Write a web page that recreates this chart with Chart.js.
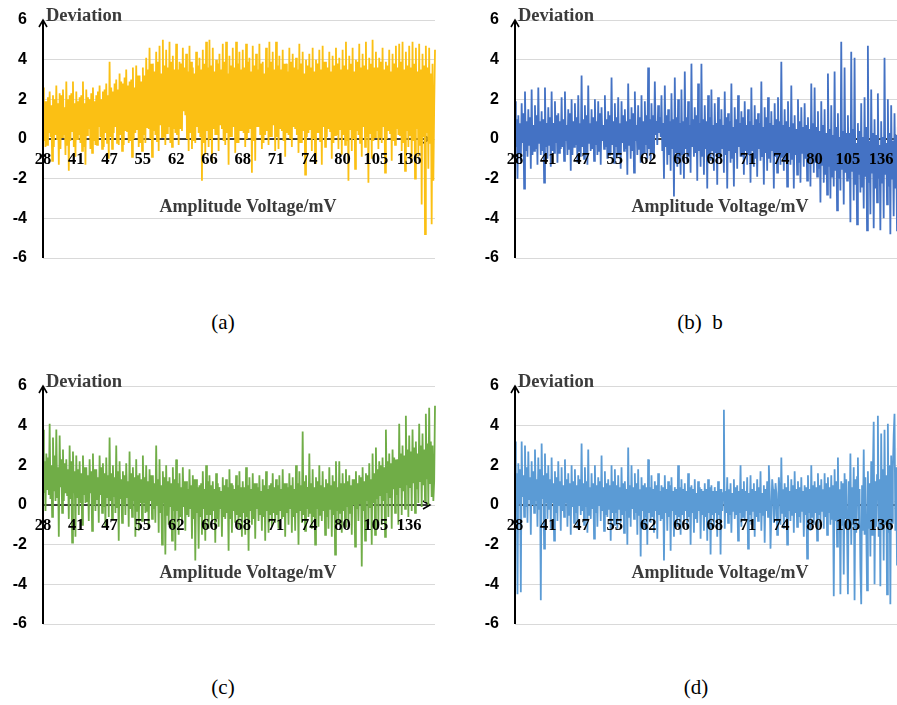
<!DOCTYPE html>
<html>
<head>
<meta charset="utf-8">
<script src="https://cdn.jsdelivr.net/npm/chart.js@4.4.1/dist/chart.umd.min.js"></script>
<style>
html,body{margin:0;padding:0;background:#fff;overflow:hidden;width:897px;height:705px;}
.pane{position:absolute;width:450px;height:280px;}
.cap{position:absolute;font-family:"Liberation Serif","Times New Roman",serif;font-size:21px;color:#000;transform:translate(-50%,-50%);white-space:nowrap;}
</style>
</head>
<body>
<div class="pane" style="left:0;top:0"><canvas id="ca" width="450" height="280"></canvas></div>
<div class="pane" style="left:472px;top:0"><canvas id="cb" width="450" height="280"></canvas></div>
<div class="pane" style="left:0;top:366px"><canvas id="cc" width="450" height="280"></canvas></div>
<div class="pane" style="left:472px;top:366px"><canvas id="cd" width="450" height="280"></canvas></div>
<div class="cap" style="left:223px;top:322px">(a)</div>
<div class="cap" style="left:700px;top:322px">(b)&nbsp;&nbsp;b</div>
<div class="cap" style="left:223px;top:687px">(c)</div>
<div class="cap" style="left:696px;top:687px">(d)</div>
<script>
// ---- data ----
const tickLabels = ['28','41','47','55','62','66','68','71','74','80','105','136'];
const yTicks = [-6,-4,-2,0,2,4,6];
const yTitle = 'Deviation';
const xTitle = 'Amplitude Voltage/mV';
const pointsPerTick = 40;

const devA = [
2.6,-0.1,1.9,-0.4,1.9,-0.3,2.1,0.3,2.4,0.1,1.7,-1.1,2.2,-0.4,2.0,0.2,2.7,0.0,1.8,-1.3,2.3,-0.5,2.2,0.1,2.5,0.2,1.6,-0.8,2.9,-0.3,2.0,-1.6,2.2,-0.1,2.3,0.4,2.9,-0.4,1.8,-0.9,
2.4,0.0,1.9,0.2,2.1,-0.2,2.2,-0.6,2.9,-0.4,1.8,-1.3,2.5,0.2,2.1,0.5,2.0,-0.5,2.3,-0.7,2.6,-0.1,1.9,-0.3,2.2,-0.3,2.4,0.6,2.7,0.1,2.0,-0.5,2.4,-0.4,2.5,0.3,2.8,-0.2,2.2,-1.0,
3.9,0.1,2.6,-0.5,2.4,0.3,2.8,0.6,3.0,-0.2,2.5,-0.3,3.3,0.2,2.9,-0.6,2.8,-0.3,3.1,0.4,3.5,0.4,2.7,-0.2,2.9,-0.1,3.0,-0.9,3.6,0.0,2.6,0.3,3.7,0.5,3.2,-0.4,3.2,-0.2,2.9,-0.6,
3.6,0.2,3.2,-0.2,4.1,0.6,3.5,0.5,4.6,0.0,3.8,-0.9,3.8,0.4,3.4,0.2,4.4,-0.1,3.9,-0.6,4.7,0.7,3.3,0.1,5.0,0.1,3.7,-0.3,4.5,0.3,3.6,0.6,4.9,-0.2,3.9,-0.4,4.2,0.5,3.5,0.3,
4.8,0.2,3.5,-0.3,3.9,0.5,3.8,0.4,4.6,1.4,3.6,1.2,4.3,0.0,3.4,-0.6,4.7,0.3,3.9,-0.5,3.6,-0.1,3.3,-0.2,4.4,0.6,3.7,0.3,4.1,0.1,3.5,-2.1,4.5,-0.2,3.8,-0.8,4.9,0.4,3.6,-0.4,
5.0,0.0,3.7,-1.2,4.6,0.5,3.4,0.2,4.0,0.2,3.8,-0.6,4.3,0.7,3.5,0.5,4.8,-0.1,3.9,-0.3,4.9,0.3,3.3,-1.3,4.2,0.1,3.7,0.1,4.6,0.6,3.6,-0.7,4.9,-0.2,3.8,-0.2,4.4,0.4,3.5,0.4,
4.5,0.3,3.6,-0.4,4.8,0.0,3.9,0.3,4.1,0.5,3.4,-1.7,4.7,-0.1,3.7,-1.1,4.3,0.6,3.5,0.6,4.8,0.2,3.8,-0.5,3.9,-0.2,3.3,0.2,4.6,0.4,3.6,-0.3,4.9,0.1,3.9,0.1,4.4,0.7,3.5,-0.6,
4.9,0.1,3.7,-0.5,4.2,0.5,3.5,0.4,4.5,-0.1,3.8,-0.9,3.8,0.3,3.4,0.2,4.6,0.0,3.9,-0.4,4.3,0.6,3.6,0.5,4.1,0.2,3.5,-0.7,4.8,-0.2,3.8,-0.2,4.4,0.4,3.3,-1.8,4.0,0.1,3.7,0.3,
4.3,0.5,3.6,-0.6,4.6,0.0,3.4,-1.2,4.0,0.3,3.8,0.3,4.5,-0.1,3.5,-1.3,4.7,0.6,3.9,-0.4,3.9,0.1,3.6,0.5,4.4,0.4,3.4,-1.0,4.2,-0.2,3.7,0.2,4.6,0.2,3.8,-0.5,4.1,0.5,3.5,-0.8,
4.5,0.2,3.7,-0.3,4.9,-0.1,3.5,-2.1,4.2,0.5,3.8,-0.6,4.6,0.0,3.4,-1.5,4.0,0.4,3.9,0.2,4.8,-0.2,3.6,-0.9,4.3,0.6,3.7,-0.4,4.9,0.1,3.5,-2.2,4.1,0.3,3.8,-1.0,5.0,-0.1,3.6,0.1,
4.4,0.4,3.6,-0.5,4.1,0.1,3.9,-0.2,4.6,0.6,3.5,-1.7,3.9,0.0,3.7,0.4,4.5,0.3,3.4,-1.1,4.3,-0.1,3.8,-0.3,4.7,0.5,3.6,0.2,4.8,0.2,3.9,-0.6,4.9,-0.2,3.5,-1.6,4.4,0.4,3.7,-0.4,
4.7,0.2,3.6,-1.2,4.9,-0.1,3.8,-2.0,4.6,0.5,3.4,-0.9,4.8,-0.3,3.5,-3.3,4.3,0.1,3.7,-4.8,4.7,0.3,3.6,-1.5,4.6,-0.2,3.3,-4.3,3.8,-2.1,1.6,4.5
];
const devB = [
1.9,-0.4,1.0,-2.0,1.2,-0.7,0.8,-1.1,1.8,-0.2,1.3,-2.5,2.4,-0.6,0.9,-0.9,1.5,-0.3,1.1,-1.5,2.5,-0.8,0.7,-0.6,1.7,-0.5,1.2,-1.3,2.6,-0.2,0.9,-0.8,1.4,-0.6,1.0,-2.2,2.6,-0.4,0.8,-1.0,
1.6,-0.3,1.1,-1.4,2.4,-0.6,0.8,-0.7,1.9,-0.2,1.2,-1.2,1.3,-0.7,0.9,-0.5,2.1,-0.4,1.0,-1.1,2.4,-0.1,0.7,-0.8,1.5,-0.5,1.3,-1.6,2.0,-0.8,0.9,-0.4,1.8,-0.3,1.1,-1.2,2.2,-0.6,0.8,-0.9,
3.2,-0.4,1.0,-1.0,1.7,-0.7,1.2,-1.3,2.7,-0.2,0.8,-0.6,1.5,-0.5,1.1,-1.1,2.0,-0.3,0.9,-0.8,1.9,-0.6,1.3,-1.3,1.6,-0.1,0.7,-0.5,2.2,-0.4,1.0,-1.0,1.4,-0.8,1.2,-0.7,3.1,-0.3,0.9,-1.2,
1.8,-0.4,1.1,-0.9,2.1,-0.7,0.8,-1.5,1.9,-0.2,1.2,-0.6,1.5,-0.5,0.9,-1.8,2.8,-0.3,1.0,-1.0,1.6,-0.6,1.3,-1.7,2.4,-0.1,0.7,-0.8,1.7,-0.5,1.1,-1.2,2.2,-0.8,0.9,-0.7,1.9,-0.3,1.2,-1.0,
3.6,-0.5,1.0,-1.1,1.8,-0.7,1.2,-0.9,2.9,0.2,0.9,-0.3,1.7,0.3,1.1,0.1,2.2,-0.6,0.8,-2.0,2.7,-0.4,1.2,-1.3,1.5,-0.8,0.9,-1.6,2.3,-0.5,1.0,-2.9,3.1,-0.7,1.1,-1.4,2.0,-0.9,0.8,-1.8,
2.5,-0.8,0.9,-2.0,3.4,-0.5,1.1,-1.2,1.9,-0.9,0.7,-1.7,3.8,-0.4,1.0,-0.9,1.6,-0.7,1.2,-2.1,2.8,-0.6,0.8,-1.4,3.8,-0.9,1.0,-1.8,1.7,-0.5,0.9,-2.5,2.2,-0.8,1.1,-1.1,2.5,-0.6,0.7,-1.6,
1.8,-0.7,0.8,-2.3,2.1,-0.9,1.0,-1.0,1.5,-0.5,0.7,-1.7,2.4,-0.8,1.1,-2.5,1.3,-0.6,0.9,-1.2,2.8,-1.0,0.6,-2.4,1.6,-0.7,1.0,-1.5,2.2,-0.4,0.8,-0.9,1.4,-0.9,1.1,-1.8,1.9,-0.6,0.7,-1.3,
1.5,-0.8,0.9,-2.2,2.6,-0.6,0.7,-1.4,1.7,-1.0,1.0,-1.9,1.3,-0.5,0.8,-1.1,2.9,-0.9,0.6,-2.3,1.6,-0.7,1.1,-1.6,2.1,-1.0,0.8,-1.2,1.4,-0.6,0.7,-2.5,1.8,-0.9,1.0,-1.7,2.1,-0.8,0.9,-1.3,
3.9,-0.9,0.7,-1.6,1.5,-1.1,0.9,-2.4,1.9,-0.7,0.6,-1.3,2.7,-1.0,0.8,-2.5,1.2,-0.8,0.5,-1.8,2.0,-1.2,0.9,-2.2,1.6,-0.7,0.6,-1.4,1.8,-1.0,0.7,-2.1,1.1,-1.1,0.5,-2.4,2.8,-0.9,0.8,-1.7,
2.6,-1.2,0.6,-1.9,1.4,-1.5,0.4,-3.2,1.9,-1.3,0.7,-2.2,1.5,-1.8,0.3,-2.8,3.3,-1.4,0.5,-3.0,1.7,-1.9,0.2,-2.4,3.4,-1.6,0.6,-3.6,1.3,-2.0,0.1,-2.6,4.9,-1.5,0.4,-3.3,3.6,-1.7,0.3,-2.1,
1.2,-2.0,0.3,-4.2,4.4,-1.6,0.5,-3.1,4.1,-2.3,-0.2,-4.3,0.8,-1.8,0.4,-2.7,1.8,-2.4,0.1,-3.5,2.1,-1.9,0.6,-4.6,4.7,-2.2,-0.1,-3.8,2.5,-1.7,0.3,-4.5,1.0,-2.5,0.2,-3.2,2.3,-2.0,-0.3,-4.6,
0.9,-2.2,0.1,-4.0,4.1,-1.8,-0.2,-3.3,2.0,-2.4,0.3,-4.8,1.7,-2.0,-0.1,-3.9,1.3,-2.5,0.2,-4.6,0.6,-1.9,-0.3,-3.6,1.1,-2.3,0.0,-4.2,0.4,-2.1,-0.4,-3.0
];
const devC = [
3.8,0.6,2.2,-0.3,2.6,0.8,2.4,0.5,4.1,0.3,2.0,-0.6,3.4,0.7,2.5,0.2,3.8,0.4,1.9,-1.6,3.5,0.9,2.3,-0.4,2.8,0.2,2.1,0.6,2.3,0.5,1.8,-0.7,3.0,0.3,2.2,-1.9,2.7,0.6,1.7,-1.6,
2.5,0.4,1.8,-0.5,2.2,0.1,1.6,-1.0,2.5,0.5,1.9,0.1,1.9,0.2,1.5,-0.8,2.3,0.6,1.7,-1.3,2.6,0.0,1.8,-0.3,1.8,0.3,1.4,-0.9,2.5,0.5,1.9,-0.4,2.1,-0.1,1.6,-1.1,2.4,0.4,1.5,-0.6,
3.4,0.2,1.6,-0.7,2.0,0.4,1.4,-0.4,3.0,-0.1,1.7,-1.8,2.2,0.3,1.3,-0.9,1.7,0.0,1.5,-0.5,2.1,0.4,1.2,-1.1,2.7,-0.2,1.6,-0.6,1.9,0.2,1.4,-1.6,2.3,-0.3,1.5,-1.3,1.6,0.1,1.3,-0.8,
2.5,0.1,1.4,-0.4,2.0,-0.3,1.2,-1.2,1.8,0.2,1.5,-0.7,1.5,-0.2,1.1,-0.9,3.0,0.0,1.3,-1.4,2.3,-0.4,1.0,-2.0,1.7,0.1,1.4,-2.5,2.0,-0.5,1.2,-1.0,1.4,-0.1,1.1,-1.8,1.9,-0.3,1.3,-2.3,
2.3,-0.3,1.1,-1.5,1.6,-0.6,0.9,-0.9,1.9,-0.1,1.2,-1.3,1.2,-0.5,0.8,-0.6,1.8,-0.2,1.0,-1.7,1.5,-0.7,1.3,-2.8,1.3,-0.4,0.9,-2.2,1.0,-0.6,1.1,-1.5,1.7,-0.2,0.8,-1.8,2.0,-0.5,1.2,-1.2,
1.5,-0.5,1.0,-0.8,1.2,-0.3,0.8,-1.9,1.6,-0.7,1.1,-1.1,0.9,-0.2,0.7,-1.6,1.4,-0.6,1.0,-0.7,1.3,-0.4,0.9,-2.3,1.8,-0.7,1.1,-1.4,1.0,-0.3,0.8,-0.9,1.5,-0.5,1.0,-1.2,1.7,-0.6,0.9,-1.6,
1.2,-0.4,0.9,-1.5,1.9,-0.6,1.0,-2.3,1.4,-0.3,0.8,-1.0,1.6,-0.7,1.1,-1.7,1.1,-0.2,0.9,-0.8,1.5,-0.5,0.7,-1.3,1.3,-0.6,1.0,-1.8,1.7,-0.3,0.8,-1.4,1.0,-0.5,1.1,-1.1,1.6,-0.4,0.9,-0.9,
1.3,-0.5,1.0,-1.2,1.5,-0.3,0.8,-0.7,1.8,-0.6,1.1,-1.6,1.1,-0.4,0.9,-1.0,1.6,-0.2,1.0,-1.4,1.4,-0.6,0.8,-1.3,2.0,-0.4,1.1,-2.0,1.7,-0.3,1.0,-0.9,3.7,-0.5,1.2,-1.3,1.5,-0.2,0.9,-0.6,
2.6,-0.4,1.1,-1.2,1.8,-0.6,0.9,-2.0,1.4,-0.2,1.2,-1.1,2.0,-0.5,1.0,-0.8,1.7,-0.3,0.9,-1.5,1.3,-0.6,1.1,-1.2,1.9,-0.2,1.0,-1.6,1.5,-0.5,1.2,-2.5,2.2,-0.3,0.9,-1.0,2.2,-0.4,1.1,-1.4,
1.6,-0.3,1.1,-1.1,1.8,-0.1,1.2,-0.9,1.5,-0.4,1.0,-1.5,1.3,0.0,1.3,-2.1,1.7,-0.2,1.1,-0.8,1.5,0.1,1.4,-3.1,1.9,-0.3,1.2,-1.8,1.6,0.2,1.5,-1.0,2.1,-0.1,1.3,-2.0,2.6,0.1,1.6,-1.5,
2.9,0.3,1.8,-0.9,2.2,0.5,2.0,-1.0,2.4,0.2,1.9,-1.6,3.8,0.6,2.2,-0.6,2.6,0.4,2.1,-1.2,2.8,0.8,2.4,-0.4,2.3,0.5,2.3,-1.0,4.1,0.9,2.6,-0.5,3.0,0.7,2.5,-0.2,4.5,1.0,2.8,-0.6,
3.5,0.9,2.7,-0.3,3.8,1.1,2.9,-0.4,3.2,0.8,2.6,0.1,4.1,1.2,3.0,-0.1,3.6,1.0,2.8,0.2,4.6,1.3,3.1,0.0,4.9,1.1,3.2,0.4,3.0,0.2,1.2,5.0
];
const devD = [
3.2,0.2,1.6,-4.5,2.1,0.1,1.8,-4.4,3.2,0.4,1.5,-0.6,3.0,-0.1,1.9,-0.9,2.7,0.3,1.4,-1.5,2.2,0.0,1.7,-0.4,2.8,0.2,1.3,-1.1,2.4,-0.2,1.8,-4.8,3.1,0.3,1.5,-2.2,2.6,0.1,1.6,-0.7,
2.0,-0.2,1.3,-1.2,2.4,0.1,1.1,-1.8,1.7,-0.4,1.4,-0.8,2.2,0.0,1.2,-1.3,1.9,-0.3,1.0,-0.6,2.3,0.1,1.3,-1.1,1.6,-0.5,1.1,-1.5,2.0,-0.1,1.2,-0.9,1.8,-0.4,1.0,-1.2,1.5,0.0,1.3,-0.5,
3.1,-0.3,1.1,-1.0,1.9,-0.1,1.2,-1.4,2.8,-0.5,0.9,-0.7,1.6,-0.2,1.1,-1.7,2.0,-0.4,1.0,-1.1,1.4,0.0,1.2,-0.8,2.5,-0.3,0.9,-1.3,1.7,-0.5,1.1,-0.6,1.3,-0.2,1.0,-1.8,2.0,-0.4,1.2,-1.0,
1.8,-0.4,1.0,-1.2,1.5,-0.2,0.9,-0.9,1.9,-0.5,1.1,-1.4,1.2,-0.3,0.8,-2.0,2.9,-0.6,1.0,-1.1,2.0,-0.2,0.9,-0.7,1.6,-0.4,1.1,-1.5,1.8,-0.5,0.8,-2.6,1.4,-0.3,1.0,-1.2,1.1,-0.6,0.9,-2.0,
2.3,-0.4,0.9,-0.9,1.5,-0.6,0.8,-1.4,1.2,-0.3,1.0,-1.7,1.6,-0.5,0.7,-0.8,1.0,-0.7,0.9,-2.8,1.5,-0.4,0.8,-1.3,1.2,-0.6,1.0,-2.3,1.4,-0.3,0.7,-1.6,0.9,-0.5,0.8,-1.1,2.0,-0.6,0.9,-1.5,
1.3,-0.5,0.8,-0.8,1.1,-0.3,0.7,-1.2,1.6,-0.6,0.9,-2.0,1.0,-0.4,0.8,-1.4,1.3,-0.7,0.6,-0.9,1.2,-0.3,0.9,-1.7,0.8,-0.5,0.7,-1.3,1.1,-0.6,0.8,-1.8,1.3,-0.4,0.9,-2.5,1.0,-0.5,0.7,-1.1,
0.9,-0.4,0.7,-1.6,1.2,-0.5,0.8,-2.5,0.8,-0.3,0.6,4.8,-1.2,0.7,-0.4,1.4,-0.9,0.8,-0.5,1.1,-1.4,0.6,-0.3,1.3,-0.7,0.9,-0.5,1.0,-1.8,0.7,-0.4,2.0,-1.1,0.8,-0.6,1.2,-0.8,0.7,-0.3,1.4,
-2.2,0.6,-0.5,1.5,-1.0,0.8,-0.3,1.1,-1.6,0.7,-0.6,1.3,-0.8,0.9,-0.4,1.7,-1.3,0.6,-0.5,1.0,-1.9,0.8,-0.3,1.2,-0.6,2.0,0.7,-2.2,-0.4,1.3,0.8,-0.9,-0.5,1.1,0.6,-1.5,-0.3,1.4,0.7,-1.0,
2.4,-0.4,0.8,-1.2,1.1,-0.6,0.9,-2.0,1.5,-0.3,0.7,-0.8,1.3,-0.5,1.0,-1.4,1.7,-0.4,0.8,-1.1,1.2,-0.6,0.9,-0.9,1.4,-0.3,0.7,-1.6,1.0,-0.5,0.9,-2.7,1.5,-0.4,0.8,-1.3,2.0,-0.6,1.0,-1.0,
1.2,-0.4,0.9,-1.8,1.6,-0.5,1.0,-0.9,1.3,-0.3,0.8,-1.2,1.6,-0.6,1.1,-1.5,1.4,-0.4,0.9,-1.0,1.5,-0.7,1.0,-4.6,1.8,-0.8,1.2,-2.1,2.4,-0.9,0.8,-4.5,1.2,-1.0,1.1,-3.5,1.6,-0.7,1.3,-1.4,
-4.5,1.2,-1.2,2.6,-2.0,0.9,-1.0,1.9,-4.8,1.3,-1.4,1.4,2.4,-1.1,0.8,-3.2,-5.0,1.0,-1.3,2.8,-1.5,1.4,-0.9,-4.3,1.7,-1.2,1.1,-2.6,2.2,-1.5,1.6,4.2,-4.0,1.2,-1.1,1.5,4.5,-1.6,1.3,-4.1,
3.6,-1.2,1.8,-2.8,3.8,-1.0,1.5,-4.5,4.1,-1.4,2.0,-5.0,2.5,-0.9,1.7,3.5,4.6,-1.3,1.9,-3.0,2.9,-1.1,1.6,-1.5,3.8,-1.2,2.1,-2.4,4.0,-1.0,1.8,-3.1
];

const colors = { a: '#FBC014', b: '#4472C4', c: '#70AD47', d: '#5B9BD5' };

const deco = {
  id: 'deco',
  beforeDatasetsDraw(chart) {
    const { ctx, chartArea: a } = chart;
    const y0 = chart.scales.y.getPixelForValue(0);
    ctx.save();
    ctx.strokeStyle = '#000';
    ctx.lineWidth = 1.5;
    ctx.beginPath();
    ctx.moveTo(a.left, y0); ctx.lineTo(a.right - 5, y0);
    ctx.stroke();
    ctx.beginPath();
    ctx.moveTo(a.right - 12, y0 - 4); ctx.lineTo(a.right - 5, y0); ctx.lineTo(a.right - 12, y0 + 4);
    ctx.stroke();
    ctx.restore();
  },
  afterDatasetsDraw(chart) {
    const { ctx, chartArea: a } = chart;
    const ys = chart.scales.y;
    ctx.save();
    ctx.strokeStyle = '#000';
    ctx.lineWidth = 2;
    ctx.beginPath();
    ctx.moveTo(a.left, a.bottom); ctx.lineTo(a.left, a.top + 1);
    ctx.stroke();
    ctx.lineWidth = 1.6;
    ctx.beginPath();
    ctx.moveTo(a.left - 4, a.top + 7); ctx.lineTo(a.left, a.top); ctx.lineTo(a.left + 4, a.top + 7);
    ctx.stroke();
    ctx.fillStyle = '#3b3b3b';
    ctx.font = 'bold 18.5px "Liberation Serif", "Times New Roman", serif';
    ctx.textAlign = 'left';
    ctx.textBaseline = 'alphabetic';
    ctx.fillText(yTitle, a.left + 3, a.top + 1);
    ctx.font = 'bold 18px "Liberation Serif", "Times New Roman", serif';
    ctx.textAlign = 'center';
    ctx.fillText(xTitle, a.left + 205, ys.getPixelForValue(-3.7));
    ctx.restore();
  }
};

function makeChart(id, values, color) {
  const labels = values.map((_, i) =>
    (i % pointsPerTick === 0 && tickLabels[i / pointsPerTick] !== undefined) ? tickLabels[i / pointsPerTick] : '');
  return new Chart(document.getElementById(id), {
    type: 'line',
    data: {
      labels: labels,
      datasets: [{ data: values, borderColor: color, borderWidth: 1.8, pointRadius: 0, tension: 0, fill: false }]
    },
    options: {
      responsive: false,
      animation: false,
      events: [],
      layout: { padding: { left: 0, right: 15, top: 20, bottom: 22 } },
      plugins: { legend: { display: false }, tooltip: { enabled: false } },
      scales: {
        x: {
          type: 'category',
          position: { y: 0 },
          offset: false,
          grid: { display: false, drawTicks: false },
          border: { display: false },
          ticks: {
            z: 1,
            autoSkip: false, maxRotation: 0, minRotation: 0, padding: 11, color: '#000',
            font: { family: '"Liberation Serif", "Times New Roman", serif', weight: 'bold', size: 16.5 }
          }
        },
        y: {
          min: -6, max: 6,
          afterFit: s => { s.width = 43; },
          afterBuildTicks: s => { s.ticks = yTicks.map(v => ({ value: v })); },
          grid: { color: '#d9d9d9', lineWidth: 1, drawTicks: true, tickLength: 16, tickColor: 'rgba(0,0,0,0)' },
          border: { display: false },
          ticks: {
            padding: 0, color: '#000',
            font: { family: '"Liberation Sans", Arial, sans-serif', weight: 'bold', size: 16 }
          }
        }
      }
    },
    plugins: [deco]
  });
}

makeChart('ca', devA, colors.a);
makeChart('cb', devB, colors.b);
makeChart('cc', devC, colors.c);
makeChart('cd', devD, colors.d);
</script>
</body>
</html>
